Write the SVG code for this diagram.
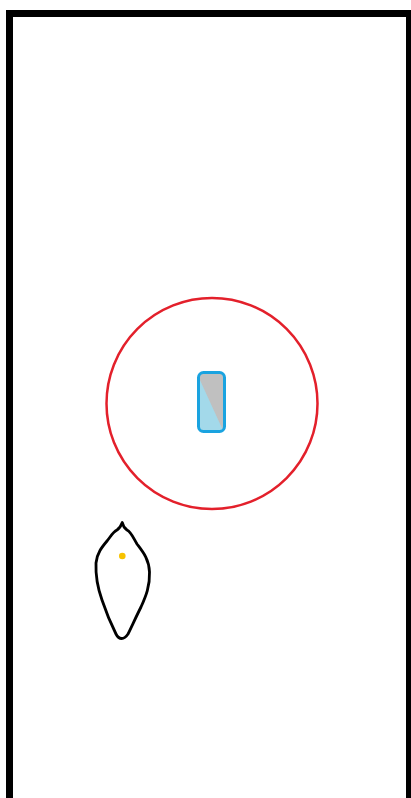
<svg xmlns="http://www.w3.org/2000/svg" width="411" height="798" viewBox="0 0 411 798">
<style>
.frame{fill:none;stroke:#000;stroke-width:7}
.zone{fill:none;stroke:#e3202b;stroke-width:2.5}
.dev{stroke:#1aa3e0;stroke-width:3}
.pod{fill:#fff;stroke:#000;stroke-width:2.8;stroke-linejoin:round}
</style>
<rect width="411" height="798" fill="#fff"/>
<g id="frame"><rect class="frame" x="9.5" y="13.5" width="400" height="800"/></g>
<g id="zone"><circle class="zone" cx="212" cy="403.5" r="105.5"/></g>
<g id="device">
<rect x="198.5" y="372.5" width="26" height="59" rx="5" fill="#c0c0c0"/>
<polygon points="199,378 223.5,431.5 199,431.5" fill="#a3d9ea"/>
<rect class="dev" x="198.5" y="372.5" width="26" height="59" rx="5" fill="none"/>
</g>
<g id="pod">
<path class="pod" d="M122.3,522.5 C123,526 124,528 127,530 C131,532 133,537 137,544 C143,552 149,559 149.5,572 C150,586 146,596 141,607 C136,617 131,628 128,634 C124,640 119,640 116,634 C112,626 106,612 102,600 C97,586 95.5,575 96,563 C97,553 102,547 107,541 C111,536 113,532 117,530 C120,528 121,526 122.3,522.5 Z"/>
<circle cx="122.3" cy="556" r="3.3" fill="#f7c200"/>
</g>
</svg>
